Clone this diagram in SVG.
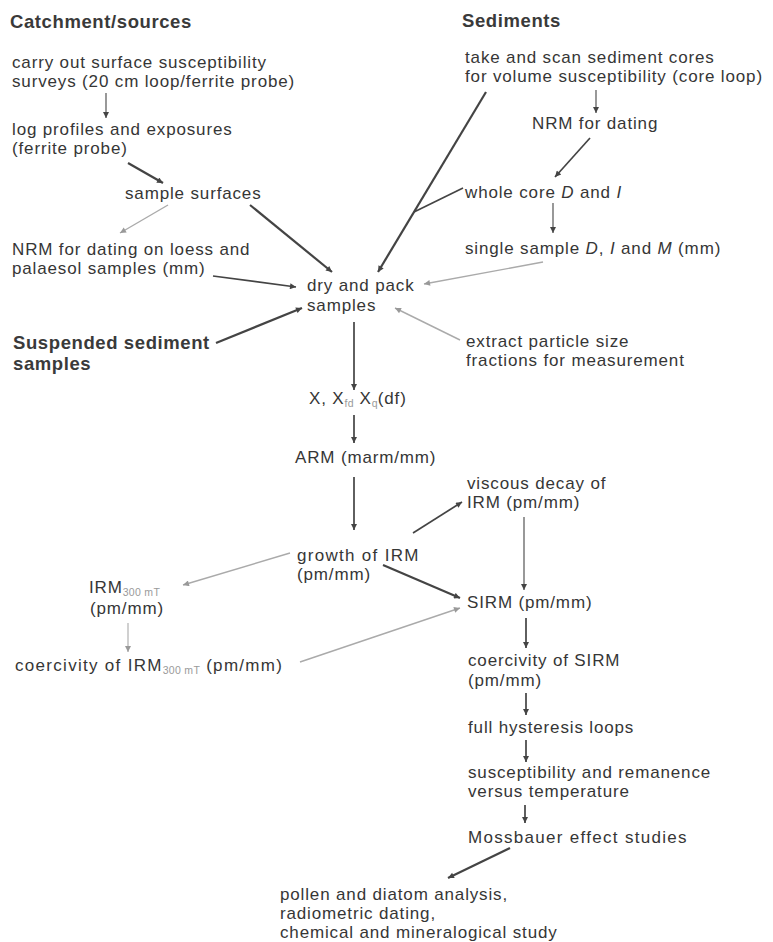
<svg xmlns="http://www.w3.org/2000/svg" width="773" height="942" viewBox="0 0 773 942">
<defs>
<style>
text{font-family:"Liberation Sans",Arial,sans-serif;font-size:17px;letter-spacing:0.85px;fill:#363636}
.h{font-weight:bold;font-size:18.5px;letter-spacing:0.6px;fill:#3a3a3a}
.i{font-style:italic}
.wide{letter-spacing:1.3px}
.sub{font-size:10.5px;letter-spacing:0.3px;fill:#9a9a9a}
.d{stroke:#444;fill:none;stroke-width:1.7}
.g{stroke:#aaa;fill:none;stroke-width:1.4}
.t{stroke-width:1.1}
.w{stroke-width:2.2}
</style>
<marker id="ad" viewBox="0 0 10 10" refX="10" refY="5" markerWidth="8" markerHeight="6" markerUnits="userSpaceOnUse" orient="auto"><path d="M0,0 L10,5 L0,10 z" fill="#444"/></marker>
<marker id="ag" viewBox="0 0 10 10" refX="10" refY="5" markerWidth="8" markerHeight="6" markerUnits="userSpaceOnUse" orient="auto"><path d="M0,0 L10,5 L0,10 z" fill="#999"/></marker>
</defs>
<rect width="773" height="942" fill="#fff"/>
<g id="connectors">
<line class="d t" x1="106" y1="93" x2="106" y2="118" marker-end="url(#ad)"/>
<line class="d w" x1="128" y1="163" x2="163" y2="183" marker-end="url(#ad)"/>
<line class="d w" x1="250" y1="205" x2="332" y2="272" marker-end="url(#ad)"/>
<line class="d" x1="213" y1="276" x2="296" y2="287" marker-end="url(#ad)"/>
<line class="d w" x1="486" y1="92" x2="378" y2="272" marker-end="url(#ad)"/>
<line class="d" x1="463" y1="188" x2="414" y2="212"/>
<line class="d t" x1="596" y1="90" x2="596" y2="113" marker-end="url(#ad)"/>
<line class="d" x1="590" y1="138" x2="555" y2="177" marker-end="url(#ad)"/>
<line class="d t" x1="553" y1="203" x2="553" y2="233" marker-end="url(#ad)"/>
<line class="d w" x1="216" y1="343" x2="302" y2="308" marker-end="url(#ad)"/>
<line class="d" x1="354" y1="322" x2="354" y2="390" marker-end="url(#ad)"/>
<line class="d" x1="354" y1="415" x2="354" y2="443" marker-end="url(#ad)"/>
<line class="d" x1="354" y1="477" x2="354" y2="530" marker-end="url(#ad)"/>
<line class="d" x1="413" y1="533" x2="462" y2="502" marker-end="url(#ad)"/>
<line class="d t" x1="524" y1="517" x2="524" y2="590" marker-end="url(#ad)"/>
<line class="d w" x1="383" y1="565" x2="460" y2="598" marker-end="url(#ad)"/>
<line class="d" x1="526" y1="618" x2="526" y2="648" marker-end="url(#ad)"/>
<line class="d" x1="526" y1="693" x2="526" y2="715" marker-end="url(#ad)"/>
<line class="d" x1="526" y1="740" x2="526" y2="762" marker-end="url(#ad)"/>
<line class="d" x1="525" y1="805" x2="525" y2="823" marker-end="url(#ad)"/>
<line class="d w" x1="510" y1="848" x2="448" y2="878" marker-end="url(#ad)"/>
<line class="g" x1="168" y1="205" x2="120" y2="233" marker-end="url(#ag)"/>
<line class="g" x1="543" y1="262" x2="424" y2="284" marker-end="url(#ag)"/>
<line class="g" x1="460" y1="340" x2="395" y2="308" marker-end="url(#ag)"/>
<line class="g" x1="290" y1="553" x2="183" y2="585" marker-end="url(#ag)"/>
<line class="g t" x1="128" y1="623" x2="128" y2="652" marker-end="url(#ag)"/>
<line class="g" x1="300" y1="662" x2="460" y2="608" marker-end="url(#ag)"/>
</g>
<g id="h-catchment"><text class="h" x="10" y="28">Catchment/sources</text></g>
<g id="h-sediments"><text class="h" x="462" y="27">Sediments</text></g>
<g id="h-suspended"><text class="h" x="13" y="349">Suspended sediment</text><text class="h" x="13" y="370">samples</text></g>
<g id="n-surveys"><text x="12" y="68">carry out surface susceptibility</text><text x="12" y="87">surveys (20 cm loop/ferrite probe)</text></g>
<g id="n-log"><text x="12" y="135">log profiles and exposures</text><text x="12" y="154">(ferrite probe)</text></g>
<g id="n-sample-surfaces"><text x="125" y="199">sample surfaces</text></g>
<g id="n-nrm-loess"><text x="12" y="255">NRM for dating on loess and</text><text x="12" y="274">palaesol samples (mm)</text></g>
<g id="n-dry"><text x="307" y="291">dry and pack</text><text x="307" y="311">samples</text></g>
<g id="n-cores"><text x="465" y="63">take and scan sediment cores</text><text x="465" y="82">for volume susceptibility (core loop)</text></g>
<g id="n-nrm-dating"><text x="532" y="129">NRM for dating</text></g>
<g id="n-whole-core"><text x="465" y="198">whole core <tspan class="i">D</tspan> and <tspan class="i">I</tspan></text></g>
<g id="n-single"><text x="465" y="254">single sample <tspan class="i">D</tspan>, <tspan class="i">I</tspan> and <tspan class="i">M</tspan> (mm)</text></g>
<g id="n-extract"><text x="466" y="347">extract particle size</text><text x="466" y="366">fractions for measurement</text></g>
<g id="n-chi"><text x="309" y="404">X, X<tspan class="sub" dy="3">fd</tspan><tspan dy="-3"> X</tspan><tspan class="sub" dy="3">q</tspan><tspan dy="-3">(df)</tspan></text></g>
<g id="n-arm"><text x="295" y="463">ARM (marm/mm)</text></g>
<g id="n-viscous"><text x="467" y="489">viscous decay of</text><text x="467" y="508">IRM (pm/mm)</text></g>
<g id="n-growth"><text class="wide" x="297" y="561">growth of IRM</text><text x="297" y="580">(pm/mm)</text></g>
<g id="n-irm300"><text x="89" y="593">IRM<tspan class="sub" dy="3">300 mT</tspan></text><text x="90" y="614">(pm/mm)</text></g>
<g id="n-sirm"><text x="467" y="608">SIRM (pm/mm)</text></g>
<g id="n-coerc-irm"><text class="wide" x="15" y="671">coercivity of IRM<tspan class="sub" dy="3">300 mT</tspan><tspan dy="-3"> (pm/mm)</tspan></text></g>
<g id="n-coerc-sirm"><text x="468" y="666">coercivity of SIRM</text><text x="468" y="686">(pm/mm)</text></g>
<g id="n-hysteresis"><text x="468" y="733">full hysteresis loops</text></g>
<g id="n-temp"><text x="468" y="778">susceptibility and remanence</text><text x="468" y="797">versus temperature</text></g>
<g id="n-mossbauer"><text class="wide" x="468" y="843">Mossbauer effect studies</text></g>
<g id="n-pollen"><text x="280" y="900">pollen and diatom analysis,</text><text x="280" y="919">radiometric dating,</text><text x="280" y="938">chemical and mineralogical study</text></g>
</svg>
